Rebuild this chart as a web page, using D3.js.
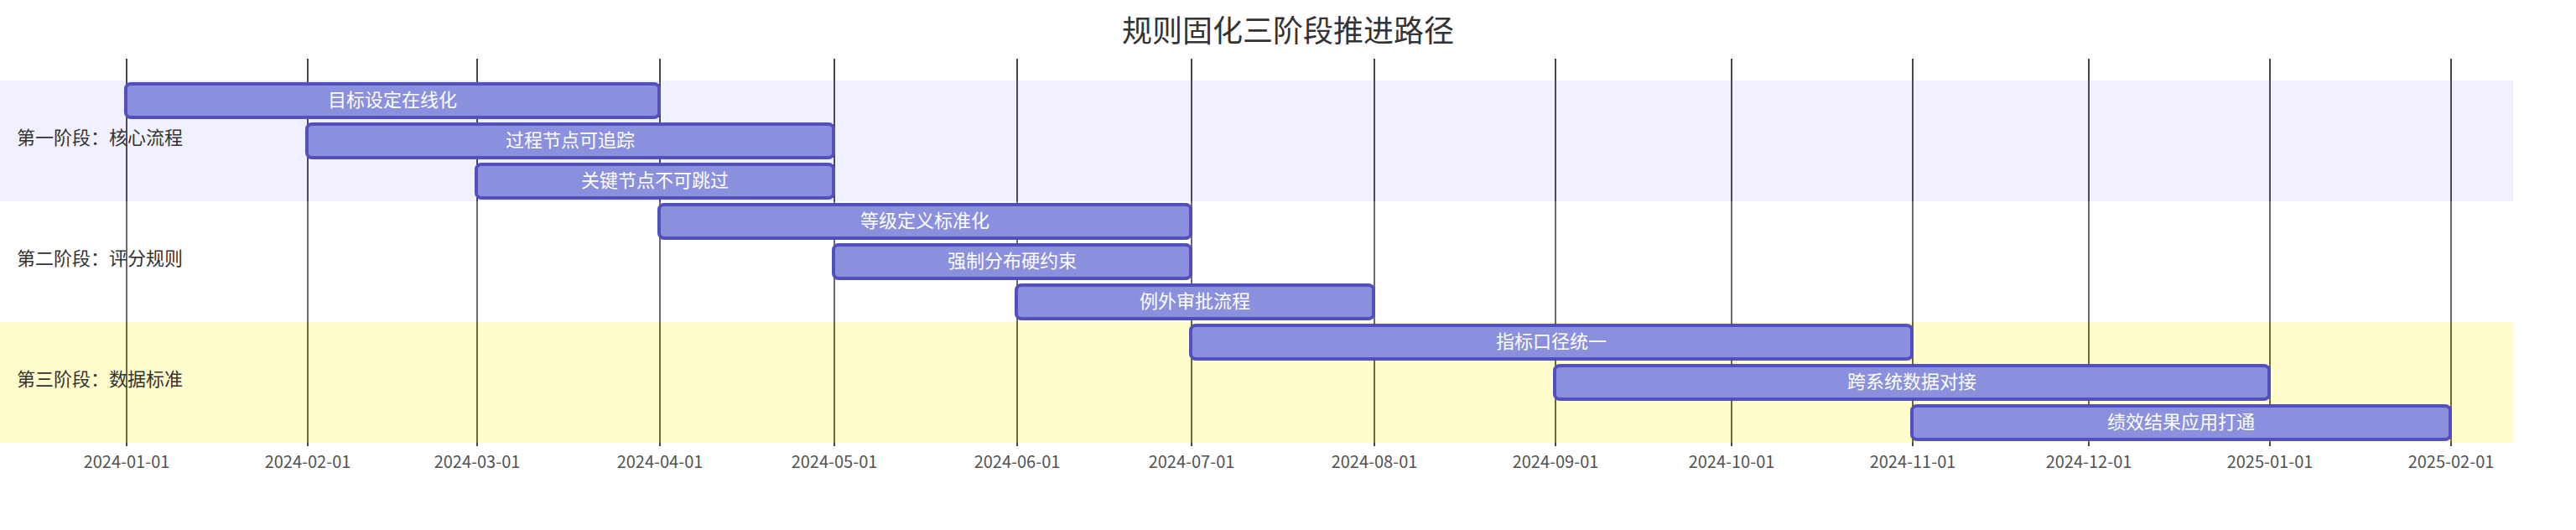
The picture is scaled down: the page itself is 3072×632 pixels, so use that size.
<!DOCTYPE html>
<html>
<head>
<meta charset="utf-8">
<script src="https://cdn.jsdelivr.net/npm/d3@7"></script>
<style>
  body { margin: 0; background: #fff; }
  svg { display: block; font-family: "Noto Sans CJK SC", "Noto Sans", sans-serif; }
</style>
</head>
<body>
<div id="chart"></div>
<script>
const title = "规则固化三阶段推进路径";
const sections = ["第一阶段：核心流程", "第二阶段：评分规则", "第三阶段：数据标准"];
const taskNames = [
    "目标设定在线化", "过程节点可追踪", "关键节点不可跳过",
    "等级定义标准化", "强制分布硬约束", "例外审批流程",
    "指标口径统一", "跨系统数据对接", "绩效结果应用打通"
];
const taskSection = [0, 0, 0, 1, 1, 1, 2, 2, 2];
const taskStart = [
    "2024-01-01", "2024-02-01", "2024-03-01",
    "2024-04-01", "2024-05-01", "2024-06-01",
    "2024-07-01", "2024-09-01", "2024-11-01"
];
const taskEnd = [
    "2024-04-01", "2024-05-01", "2024-05-01",
    "2024-07-01", "2024-07-01", "2024-08-01",
    "2024-11-01", "2025-01-01", "2025-02-01"
];

// layout in mermaid units, drawn at 2x through the viewBox
const w = 1536
    , leftPadding = 75
    , rightPadding = 75
    , topPadding = 50
    , gridLineStartPadding = 35
    , barHeight = 20
    , barGap = 4
    , gap = barHeight + barGap;
const h = taskNames.length * gap + 2 * topPadding;

const sectionFill = ["rgba(102, 102, 255, 0.49)", "white", "#fff400"];

const parse = d3.timeParse("%Y-%m-%d");
const tasks = taskNames.map((name, i) => ({
    name: name,
    section: taskSection[i],
    start: parse(taskStart[i]),
    end: parse(taskEnd[i]),
    order: i
}));

const svg = d3.select("#chart").append("svg")
    .attr("width", w * 2)
    .attr("height", h * 2)
    .attr("viewBox", `0 0 ${w} ${h}`);

const x = d3.scaleTime()
    .domain([d3.min(tasks, d => d.start), d3.max(tasks, d => d.end)])
    .rangeRound([0, w - leftPadding - rightPadding]);

const y = d3.scaleLinear()
    .domain([0, tasks.length])
    .range([topPadding, topPadding + tasks.length * gap]);

// title
svg.append("text")
    .attr("x", w / 2)
    .attr("y", 25)
    .attr("text-anchor", "middle")
    .attr("font-size", 18)
    .attr("fill", "#333")
    .text(title);

// grid
const grid = svg.append("g")
    .attr("class", "grid")
    .attr("transform", `translate(${leftPadding},${h - 50})`)
    .call(d3.axisBottom(x)
        .ticks(d3.timeMonth.every(1))
        .tickSize(-h + topPadding + gridLineStartPadding)
        .tickFormat(d3.timeFormat("%Y-%m-%d")));
grid.select(".domain").remove();
grid.selectAll(".tick line").attr("stroke", "#333").attr("stroke-width", 0.9);
grid.selectAll(".tick text")
    .attr("fill", "#333")
    .attr("opacity", 0.85)
    .attr("font-size", 10)
    .attr("font-family", "\"Noto Sans CJK SC\", sans-serif")
    .attr("dy", "1em");

// section backgrounds, one per task row
svg.append("g").selectAll("rect")
    .data(tasks)
    .enter().append("rect")
    .attr("x", 0)
    .attr("y", d => y(d.order) - 2)
    .attr("width", w - rightPadding / 2)
    .attr("height", gap)
    .attr("fill", d => sectionFill[d.section])
    .attr("opacity", 0.2);

// task bars
svg.append("g").selectAll("rect")
    .data(tasks)
    .enter().append("rect")
    .attr("rx", 3)
    .attr("ry", 3)
    .attr("x", d => x(d.start) + leftPadding)
    .attr("y", d => y(d.order))
    .attr("width", d => x(d.end) - x(d.start))
    .attr("height", barHeight)
    .attr("fill", "#8a90dd")
    .attr("stroke", "#534fbc")
    .attr("stroke-width", 2);

// task labels
svg.append("g").selectAll("text")
    .data(tasks)
    .enter().append("text")
    .attr("x", d => (x(d.start) + x(d.end)) / 2 + leftPadding)
    .attr("y", d => y(d.order) + barHeight / 2 + 11 / 2 - 2)
    .attr("text-anchor", "middle")
    .attr("font-size", 11)
    .attr("fill", "#fff")
    .text(d => d.name);

// section titles
const sectionRows = sections.map((s, i) => tasks.filter(t => t.section === i).map(t => t.order));
svg.append("g").selectAll("text")
    .data(sections)
    .enter().append("text")
    .attr("x", 10)
    .attr("y", (d, i) => (y(d3.min(sectionRows[i])) + y(d3.max(sectionRows[i]) + 1)) / 2 - 5)
    .attr("dominant-baseline", "central")
    .attr("font-size", 11)
    .attr("fill", "#333")
    .text(d => d);
</script>
</body>
</html>
